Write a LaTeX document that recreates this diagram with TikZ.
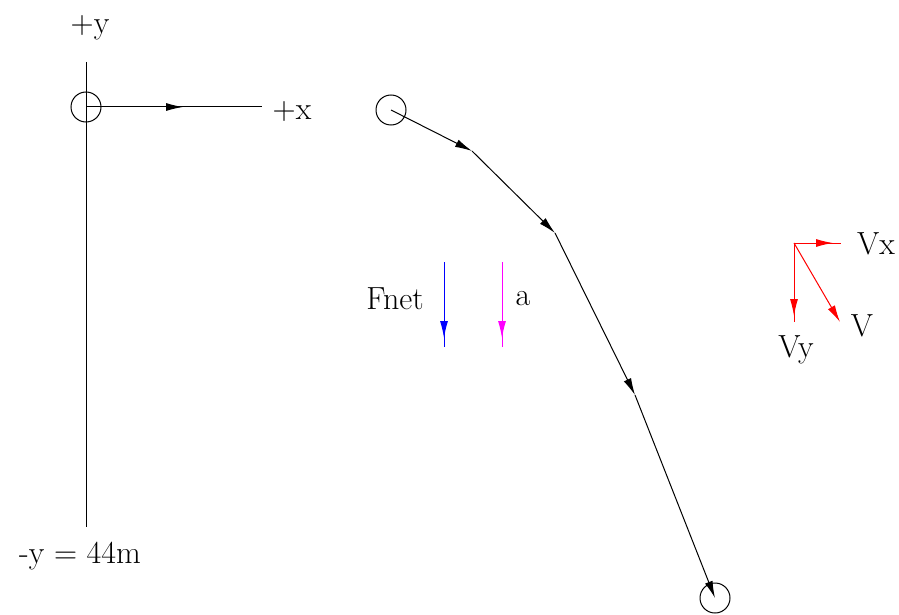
\documentclass[tikz,border=0pt]{standalone}
\usetikzlibrary{arrows.meta, positioning}
\definecolor{accblue}{RGB}{0,0,255}
\definecolor{accpink}{RGB}{255,0,255}
\definecolor{velred}{RGB}{255,0,0}

\begin{document}
\begin{tikzpicture}[x=1pt, y=-1pt, line width=1pt,
    every node/.style={font=\rmfamily\fontsize{32}{36}\selectfont},
    ball/.style={circle, draw, minimum size=30pt, inner sep=0pt},
    tip/.style={-{Latex[length=17pt, width=8pt]}}]
    \useasboundingbox (0,0) rectangle (899,615);
    % axes
    \node[ball] (org) at (86,107) {};
    \coordinate (ytop) at (86,62);
    \coordinate (ybot) at (86,527);
    \coordinate (xmid) at (183,107);
    \coordinate (xend) at (262,107);
    \node (ylab) at (90,28) {+y};
    \node (xlab) at (292,112) {+x};
    \node (ybotlab) at (80,556) {-y = 44m};
    \draw (ytop) -- (ybot);
    \draw (org.center) -- (xend);
    \draw[tip] (org.center) -- (xmid);
    % path of the ball
    \node[ball] (start) at (391,110) {};
    \coordinate (p1) at (472,151);
    \coordinate (p2) at (555,233);
    \coordinate (p3) at (635,395);
    \node[ball] (stop) at (715,598) {};
    \draw[tip] (start.center) -- (p1);
    \draw[tip] (p1) -- (p2);
    \draw[tip] (p2) -- (p3);
    \draw[tip] (p3) -- (stop.center);
    % force and acceleration
    \coordinate (ftop) at (444,262);
    \coordinate (ftip) at (444,338);
    \coordinate (fbot) at (444,347);
    \coordinate (atop) at (502,262);
    \coordinate (atip) at (502,338);
    \coordinate (abot) at (502,347);
    \node (flab) at (395,299) {Fnet};
    \node (alab) at (523,299) {a};
    \draw[accblue] (ftop) -- (fbot);
    \draw[accblue, tip] (ftop) -- (ftip);
    \draw[accpink] (atop) -- (abot);
    \draw[accpink, tip] (atop) -- (atip);
    % velocity parts
    \coordinate (v0) at (794,243);
    \coordinate (vxtip) at (833,243);
    \coordinate (vxend) at (841,243);
    \coordinate (vytip) at (794,316);
    \coordinate (vyend) at (794,322);
    \coordinate (vend) at (840,322);
    \node (vxlab) at (876,244) {Vx};
    \node (vylab) at (796,350) {Vy};
    \node (vlab) at (862,326) {V};
    \draw[velred] (v0) -- (vxend);
    \draw[velred, tip] (v0) -- (vxtip);
    \draw[velred] (v0) -- (vyend);
    \draw[velred, tip] (v0) -- (vytip);
    \draw[velred, tip] (v0) -- (vend);
\end{tikzpicture}
\end{document}
